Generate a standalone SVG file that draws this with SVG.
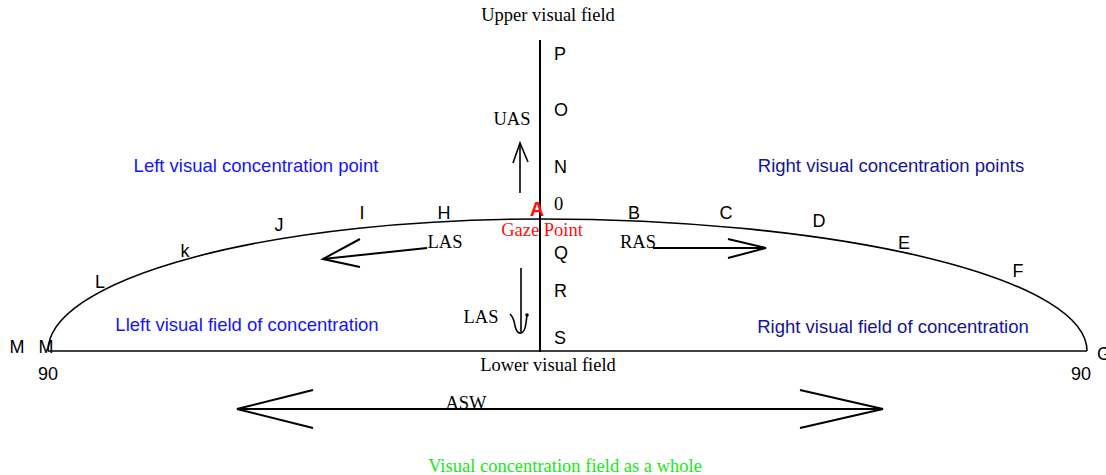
<svg xmlns="http://www.w3.org/2000/svg" width="1106" height="475" viewBox="0 0 1106 475">
<style>
.ln{fill:none;stroke:#000;stroke-width:2}
.th{fill:none;stroke:#000;stroke-width:1.6}
.sa{font-family:"Liberation Sans",Arial,sans-serif;font-size:18px;fill:#000}
.se{font-family:"Liberation Serif","Times New Roman",serif;font-size:18.5px;fill:#000}
.bl{font-family:"Liberation Sans",Arial,sans-serif;font-size:18.5px;fill:#1414ff}
.nv{font-family:"Liberation Sans",Arial,sans-serif;font-size:18.5px;fill:#141496}
</style>
<rect width="1106" height="475" fill="#fff"/>
<g id="frame">
<line class="ln" x1="540" y1="40" x2="540" y2="352"/>
<line class="th" x1="48" y1="351" x2="1087" y2="351"/>
<path class="th" d="M48 351 A492 132 0 0 1 540 219 A547 132 0 0 1 1087 351"/>
</g>
<g id="connectors">
<g id="uas-arrow"><line class="th" x1="520" y1="193" x2="520" y2="143"/><polyline class="th" points="513,163 520,143 528,162"/></g>
<g id="las-left-arrow"><line class="ln" x1="427" y1="248" x2="323" y2="259"/><polyline class="ln" points="360,239 323,259 360,267"/></g>
<g id="ras-arrow"><line class="ln" x1="653" y1="248" x2="766" y2="248"/><polyline class="ln" points="728,239 766,248 728,258"/></g>
<g id="las-down-arrow"><line class="th" x1="521" y1="268" x2="521" y2="332"/><path class="th" d="M510 314 Q514 318 515 326 Q517 334 521 333 Q525 332 526 323 L527 315"/><circle cx="527" cy="315" r="1.8" fill="#000"/></g>
<g id="asw-arrow"><line class="ln" x1="237" y1="409" x2="883" y2="409"/><polyline class="ln" points="313,390 237,409 313,428"/><polyline class="ln" points="800,390 883,409 800,428"/></g>
</g>
<g id="labels">
<text class="se" x="548" y="21" text-anchor="middle">Upper visual field</text>
<text class="se" x="548" y="371" text-anchor="middle">Lower visual field</text>
<text class="sa" x="554" y="60">P</text>
<text class="sa" x="554" y="116">O</text>
<text class="sa" x="554" y="173">N</text>
<text class="se" x="554" y="210">0</text>
<text class="sa" x="554" y="259">Q</text>
<text class="sa" x="554" y="297">R</text>
<text class="sa" x="554" y="344">S</text>
<text class="sa" x="634" y="219" text-anchor="middle">B</text>
<text class="sa" x="726" y="219" text-anchor="middle">C</text>
<text class="sa" x="819" y="227" text-anchor="middle">D</text>
<text class="sa" x="904" y="249" text-anchor="middle">E</text>
<text class="sa" x="1018" y="277" text-anchor="middle">F</text>
<text class="sa" x="444" y="219" text-anchor="middle">H</text>
<text class="sa" x="362" y="219" text-anchor="middle">I</text>
<text class="sa" x="279" y="231" text-anchor="middle">J</text>
<text class="sa" x="185" y="257" text-anchor="middle">k</text>
<text class="sa" x="100" y="288" text-anchor="middle">L</text>
<text class="sa" x="17" y="353" text-anchor="middle">M</text>
<text class="sa" x="46" y="353" text-anchor="middle">M</text>
<text class="sa" x="1097" y="360">G</text>
<text class="sa" x="48" y="380" text-anchor="middle">90</text>
<text class="sa" x="1081" y="380" text-anchor="middle">90</text>
<text x="537" y="216" text-anchor="middle" font-family="Liberation Sans,Arial,sans-serif" font-size="20" font-weight="bold" fill="#ff1010">A</text>
<text x="542" y="236" text-anchor="middle" font-family="Liberation Serif,Times New Roman,serif" font-size="18.5" fill="#ff1010">Gaze Point</text>
<text class="se" x="512" y="125" text-anchor="middle">UAS</text>
<text class="se" x="445" y="248" text-anchor="middle">LAS</text>
<text class="se" x="638" y="248" text-anchor="middle">RAS</text>
<text class="se" x="481" y="323" text-anchor="middle">LAS</text>
<text class="se" x="466" y="409" text-anchor="middle">ASW</text>
<text class="bl" x="256" y="172" text-anchor="middle">Left visual concentration point</text>
<text class="nv" x="891" y="172" text-anchor="middle">Right visual concentration points</text>
<text class="bl" x="247" y="331" text-anchor="middle">Lleft visual field of concentration</text>
<text class="nv" x="893" y="333" text-anchor="middle">Right visual field of concentration</text>
<text x="565" y="472" text-anchor="middle" font-family="Liberation Serif,Times New Roman,serif" font-size="18.5" fill="#19e619">Visual concentration field as a whole</text>
</g>
</svg>
